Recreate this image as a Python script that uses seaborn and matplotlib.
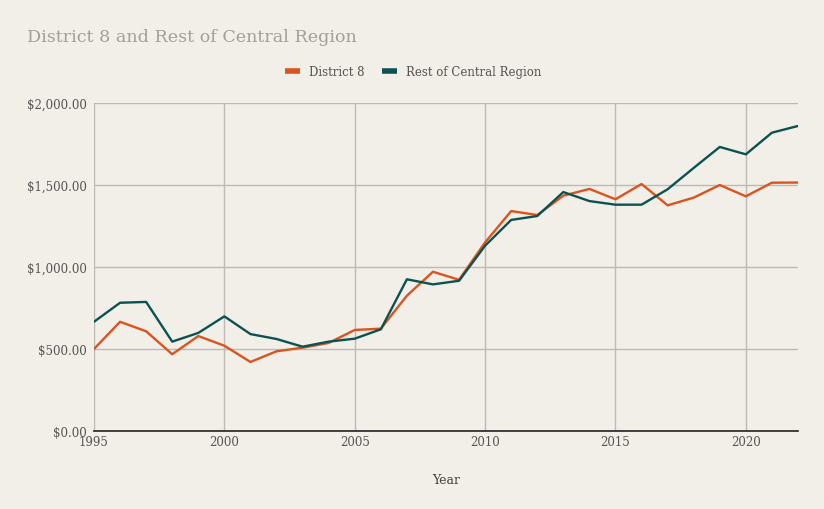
import matplotlib
matplotlib.use('Agg')
import matplotlib.pyplot as plt
import matplotlib.ticker as mticker
import seaborn as sns
import pandas as pd

# -- DATA --
YEARS = list(range(1995, 2023))
DISTRICT_8 = [500, 666, 608, 468, 579, 520, 421, 486, 508, 537,
              616, 624, 825, 971, 922, 1150, 1341, 1317, 1435, 1476,
              1413, 1506, 1376, 1423, 1500, 1431, 1514, 1515]
REST_CENTRAL = [666, 782, 787, 545, 598, 699, 591, 561, 514, 545,
                563, 620, 925, 894, 916, 1130, 1287, 1311, 1457, 1402,
                1380, 1380, 1474, 1604, 1732, 1687, 1819, 1860]
SERIES_NAMES = ['District 8', 'Rest of Central Region']
Y_TICKS = [0, 500, 1000, 1500, 2000]
X_TICKS = [1995, 2000, 2005, 2010, 2015, 2020]

BG = '#f2eee8'
COLORS = {'District 8': '#d9541e', 'Rest of Central Region': '#0b5351'}

df = pd.DataFrame({'Year': YEARS * 2,
                   'Value': DISTRICT_8 + REST_CENTRAL,
                   'Series': [SERIES_NAMES[0]] * len(YEARS) + [SERIES_NAMES[1]] * len(YEARS)})

sns.set_theme(style="whitegrid")
plt.rcParams['font.family'] = ['DejaVu Serif']

fig = plt.figure(figsize=(8.24, 5.10), dpi=100, facecolor=BG)
ax = fig.add_axes([94 / 824, 1 - 432 / 510, 704 / 824, 328 / 510])
ax.set_facecolor(BG)

sns.lineplot(data=df, x='Year', y='Value', hue='Series', palette=COLORS,
             linewidth=1.7, ax=ax, legend=False)

ax.set_xlim(1995, 2022)
ax.set_ylim(0, 2000)
ax.set_xticks(X_TICKS)
ax.set_yticks(Y_TICKS)
ax.yaxis.set_major_formatter(mticker.FuncFormatter(lambda v, p: f"${v:,.2f}"))
ax.grid(True, color='#bdbab6', linewidth=1)
for s in ['left', 'right', 'top']:
    ax.spines[s].set_visible(False)
ax.spines['bottom'].set_color('#222222')
ax.spines['bottom'].set_linewidth(1.2)
ax.tick_params(axis='both', labelsize=8.5, labelcolor='#555555', length=0, pad=5)
ax.tick_params(axis='x', pad=3)

ax.set_xlabel('Year', fontsize=9, color='#444444', labelpad=18)
ax.set_ylabel('')

# title
fig.text(27 / 824, 1 - 38 / 510, 'District 8 and Rest of Central Region',
         fontsize=12.6, color='#a3a09c', va='center', ha='left')

# legend
handles = [plt.Line2D([], [], color=COLORS[n], linewidth=4, solid_capstyle='butt')
           for n in SERIES_NAMES]
fig.legend(handles, SERIES_NAMES, loc='center', bbox_to_anchor=(413 / 824, 1 - 73 / 510),
           ncol=2, frameon=False, fontsize=8.5, handlelength=1.3, columnspacing=1.5,
           handletextpad=0.7, labelcolor='#555555')

fig.savefig('out.png', dpi=100, facecolor=BG)
